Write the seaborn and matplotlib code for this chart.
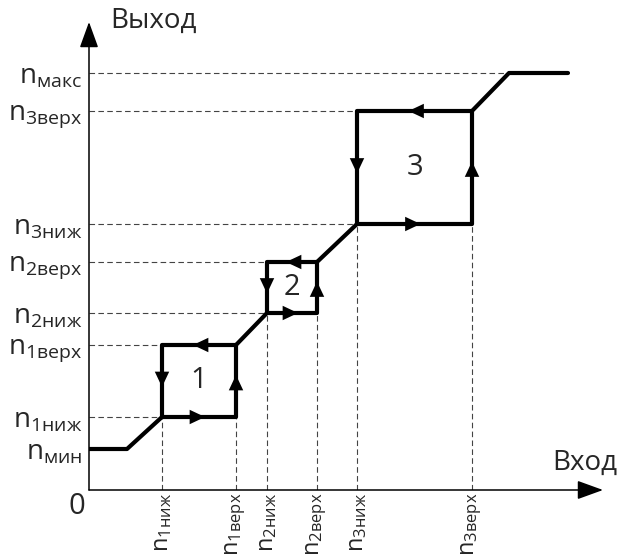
import matplotlib
matplotlib.use("Agg")
import matplotlib.pyplot as plt
import numpy as np
import pandas as pd
import seaborn as sns

# уровни входа (ось X) и выхода (ось Y)
x_levels = [7.3, 14.7, 17.8, 22.8, 26.8, 38.3]
x_labels = ["n$_{1ниж}$", "n$_{1верх}$", "n$_{2ниж}$", "n$_{2верх}$", "n$_{3ниж}$", "n$_{3верх}$"]
y_levels = [4.1, 7.3, 14.5, 17.7, 22.8, 26.6, 37.9, 41.7]
y_labels = ["n$_{мин}$", "n$_{1ниж}$", "n$_{1верх}$", "n$_{2ниж}$", "n$_{2верх}$",
            "n$_{3ниж}$", "n$_{3верх}$", "n$_{макс}$"]

x_min_end = 3.8      # конец горизонтального участка n_мин
x_max_start = 42.0   # начало участка n_макс
x_end = 47.9

# нижние/верхние границы петель
loops_x = [(7.3, 14.7), (17.8, 22.8), (26.8, 38.3)]
loops_y = [(7.3, 14.5), (17.7, 22.8), (26.6, 37.9)]
loop_names = ["1", "2", "3"]

sns.set_theme(style="white")
plt.rcParams["font.family"] = ["Open Sans", "DejaVu Sans"]
plt.rcParams["mathtext.fontset"] = "custom"
plt.rcParams["mathtext.rm"] = "Open Sans"
plt.rcParams["mathtext.it"] = "Open Sans"
plt.rcParams["mathtext.default"] = "regular"

fig = plt.figure(figsize=(6.19, 5.55), dpi=100)
ax = fig.add_axes([89 / 619, 65 / 555, 530 / 619, 490 / 555])
ax.set_xlim(0, 53.0)
ax.set_ylim(0, 49.0)
for s in ax.spines.values():
    s.set_visible(False)

dash_kw = dict(color="#444444", lw=0.8, ls=(0, (5, 3)), zorder=1)

# пунктир: горизонтальные
ax.plot([0, x_max_start], [y_levels[7]] * 2, **dash_kw)
for (xl, xh), (yl, yh) in zip(loops_x, loops_y):
    ax.plot([0, xl], [yl, yl], **dash_kw)
    ax.plot([0, xl], [yh, yh], **dash_kw)
    # вертикальные
    ax.plot([xl, xl], [0, yl], **dash_kw)
    ax.plot([xh, xh], [0, yl], **dash_kw)

# основная кривая (путь при увеличении входа)
px = [0, x_min_end]
py = [y_levels[0], y_levels[0]]
for (xl, xh), (yl, yh) in zip(loops_x, loops_y):
    px += [xl, xh, xh]
    py += [yl, yl, yh]
px += [x_max_start, x_end]
py += [y_levels[7], y_levels[7]]
curve = pd.DataFrame({"x": px, "y": py})
sns.lineplot(data=curve, x="x", y="y", sort=False, estimator=None,
             color="black", lw=3, ax=ax, zorder=3)

# обратный путь каждой петли (верх и левая сторона)
for (xl, xh), (yl, yh) in zip(loops_x, loops_y):
    back = pd.DataFrame({"x": [xh, xl, xl], "y": [yh, yh, yl]})
    sns.lineplot(data=back, x="x", y="y", sort=False, estimator=None,
                 color="black", lw=3, ax=ax, zorder=3)


def head(x, y, dx, dy):
    ax.annotate("", xy=(x + dx * 0.6, y + dy * 0.6), xytext=(x - dx * 1.5, y - dy * 1.5),
                arrowprops=dict(arrowstyle="-|>,head_length=0.85,head_width=0.4",
                                color="black", lw=0, shrinkA=0, shrinkB=0,
                                mutation_scale=13), zorder=4)


for (xl, xh), (yl, yh), name in zip(loops_x, loops_y, loop_names):
    xm = (xl + xh) / 2
    ym = (yl + yh) / 2
    head(xm, yl, 1, 0)
    head(xh, ym, 0, 1)
    head(xm, yh, -1, 0)
    head(xl, ym, 0, -1)
    ax.text(xm, ym, name, ha="center", va="center", fontsize=21)

# оси со стрелками
ax.annotate("", xy=(51.4, 0), xytext=(0, 0), annotation_clip=False,
            arrowprops=dict(arrowstyle="-|>,head_length=1.6,head_width=0.58",
                            color="black", lw=1.1, shrinkA=0, shrinkB=0,
                            mutation_scale=10))
ax.annotate("", xy=(0, 46.8), xytext=(0, 0), annotation_clip=False,
            arrowprops=dict(arrowstyle="-|>,head_length=1.6,head_width=0.58",
                            color="black", lw=1.1, shrinkA=0, shrinkB=0,
                            mutation_scale=10))

ax.set_xticks(x_levels, x_labels, rotation=90, fontsize=17)
ax.set_yticks(y_levels, y_labels, fontsize=20)
ax.tick_params(axis="x", length=0, pad=2)
ax.tick_params(axis="y", length=0, pad=5)
ax.set_xlabel("")
ax.set_ylabel("")

ax.text(-1.2, -1.7, "0", ha="center", va="center", fontsize=21, clip_on=False)
ax.text(2.1, 46.9, "Выход", ha="left", va="center", fontsize=20, clip_on=False)
ax.text(46.3, 2.7, "Вход", ha="left", va="center", fontsize=20, clip_on=False)

fig.savefig("out.png", dpi=100, facecolor="white")
